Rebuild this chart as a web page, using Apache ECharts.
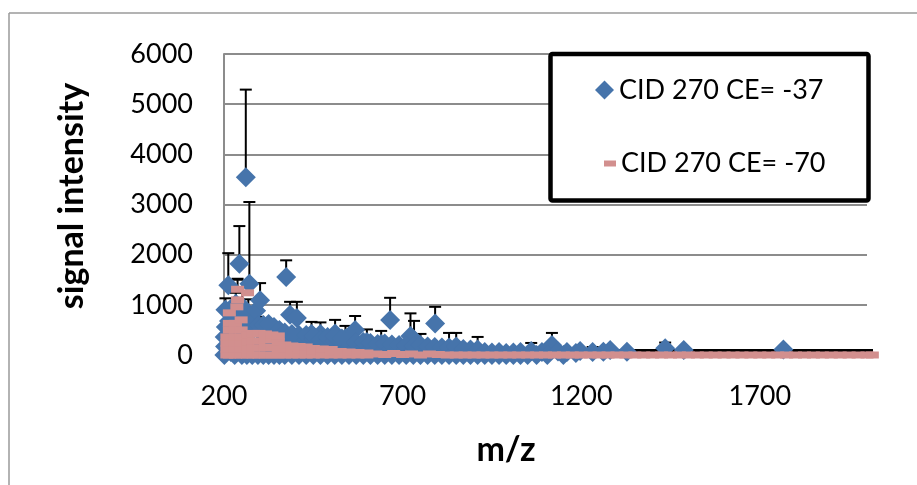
<!DOCTYPE html>
<html>
<head>
<meta charset="utf-8">
<script src="https://cdn.jsdelivr.net/npm/echarts@6/dist/echarts.min.js"></script>
<style>
html,body{margin:0;padding:0;background:#fff;}
#chart{width:917px;height:485px;}
</style>
</head>
<body>
<div id="chart"></div>
<script>
// ---- axis ticks ----
const xTicks = [200, 700, 1200, 1700];
const xMax = 2000;
const yTicks = [0, 1000, 2000, 3000, 4000, 5000, 6000];

const seriesNames = ['CID 270 CE= -37', 'CID 270 CE= -70'];

// ---- CE -37 : [m/z, signal intensity, sd] ----
const blueCluster = [
  [201,0,0],[203,170,0],[202,360,0],[205,560,0],[204,900,230],
  [212,1390,640],[214,680,0],[216,280,0],[219,60,0],[230,0,0],
  [226,440,0],[229,760,0],[233,1020,220],[237,240,0],[250,0,0],
  [243,1820,750],[248,620,0],[251,960,300],[261,3545,1745],
  [256,320,0],[271,1420,1630],[268,780,330],[275,520,0],[264,0,0],
  [281,660,240],[285,160,0],[290,880,0],[296,600,160],[301,1093,340],[279,0,0],[295,0,0]
];
const bluePeaks = [
  [374,1557,330],[385,800,260],[404,740,320],[445,420,240],[511,430,270],
  [567,497,280],[665,700,440],[722,380,450],[732,300,380],[791,630,330],
  [1118,200,240],[1435,133,115],
  [470,420,230],[540,330,250],[600,260,250],[640,220,260]
];
const blueBand = [
  [310,0,0],[310,200,0],[310,400,0],[310,600,0],
  [325,0,0],[325,220,0],[325,420,0],[325,620,0],
  [340,0,0],[340,200,0],[340,380,0],[340,560,0],
  [355,0,0],[355,190,0],[355,370,0],[355,500,0],
  [370,0,0],[370,200,0],[370,350,0],[370,450,0],
  [390,0,0],[390,180,0],[390,330,0],[390,420,0],
  [410,0,0],[410,170,0],[410,320,0],[410,400,0],
  [430,0,0],[430,160,0],[430,300,0],[430,400,0],
  [450,0,0],[450,170,0],[450,320,0],[450,380,0],
  [470,0,0],[470,150,0],[470,300,0],
  [490,0,0],[490,160,0],[490,290,0],[490,360,0],
  [510,0,0],[510,150,0],[510,280,0],[510,380,0],
  [530,0,0],[530,140,0],[530,270,0],[530,330,0],
  [550,0,0],[550,150,0],[550,260,0],[550,300,0],
  [570,0,0],[570,130,0],[570,250,0],
  [590,0,0],[590,140,0],[590,260,0],
  [610,0,0],[610,120,0],[610,240,0],
  [630,0,0],[630,130,0],[630,220,0],
  [650,0,0],[650,110,0],[650,230,0],
  [670,0,0],[670,120,0],[670,210,0],
  [690,0,0],[690,100,0],[690,200,0],
  [710,0,0],[710,110,0],[710,190,0],
  [730,0,0],[730,100,0],[730,180,0],
  [750,0,0],[750,90,0],[750,200,220],
  [770,0,0],[770,100,0],[770,170,0],
  [790,0,0],[790,80,0],[790,160,0],
  [810,0,0],[810,90,0],[810,150,0],
  [830,0,0],[830,80,0],[830,150,290],
  [850,0,0],[850,70,0],[850,170,270],
  [870,0,0],[870,60,0],[870,120,0],
  [890,0,0],[890,80,0],[890,110,0],
  [910,0,0],[910,110,250],
  [930,0,0],[930,60,0],
  [950,0,0],[950,50,0],
  [970,0,0],[970,60,0],
  [990,0,0],[990,40,0],
  [1010,0,0],[1010,50,0],
  [1030,0,0],[1030,60,0],
  [1050,0,0],[1060,80,160],
  [1075,0,0],[1090,60,0],
  [1105,0,0],[1135,70,0],
  [1150,0,0],[1160,60,0]
];
const blueSparse = [
  [1185,40,0],[1197,80,0],[1232,60,100],[1262,67,0],[1281,100,0],
  [1328,67,0],[1487,100,0],[1766,110,0]
];

// ---- CE -70 : [m/z, signal intensity, sd] ----
const pinkCluster = [
  [208,0,0],[208,120,0],[208,240,0],[208,360,0],
  [215,0,0],[215,120,0],[215,240,0],[215,360,0],[215,500,0],[215,630,0],[215,840,0],
  [232,0,0],[232,120,0],[232,240,0],[232,360,0],[232,500,0],[232,630,0],[236,960,0],[238,1100,0],[238,1310,200],
  [248,0,0],[248,120,0],[248,240,0],[248,360,0],[248,500,0],[248,700,0],
  [266,0,0],[266,130,0],[266,260,0],[266,400,0],[266,1240,170],
  [282,0,0],[282,140,0],[282,280,0],[282,430,0],
  [298,0,0],[298,140,0],[298,280,0],[298,430,0],
  [316,0,0],[316,150,0],[316,300,0],[316,420,0],
  [334,0,0],[334,150,0],[334,300,0],[334,400,0],
  [352,0,0],[352,130,0],[352,260,0],[352,380,0],
  [370,0,0],[370,120,0],[370,200,0],
  [390,0,0],[390,110,0],[390,180,0],
  [410,0,0],[410,100,0],[410,170,0],
  [430,0,0],[430,90,0],[430,160,0],
  [450,0,0],[450,80,0],[450,130,0],
  [475,0,0],[475,70,0],[475,120,0],
  [500,0,0],[500,60,0],[500,110,0],
  [525,0,0],[525,70,0],
  [550,0,0],[550,60,0],
  [575,0,0],[575,50,0],
  [600,0,0],[600,40,0]
];
const pinkTail = [
  [625,20,0],[650,10,0],[675,30,0],[700,10,0],[725,20,0],[750,0,0],[775,20,0],[800,10,0],
  [825,0,0],[850,0,90],[875,0,90],[900,0,90],[925,0,90],[950,0,90],[975,0,90],[1000,0,90],
  [1025,0,90],[1050,0,90],[1075,0,90],[1100,0,90],[1125,0,90],[1150,0,90],[1175,0,90],
  [1200,0,90],[1225,0,90],[1250,0,90],[1275,0,90],[1300,0,90],[1325,0,90],[1350,0,90],
  [1375,0,90],[1400,0,90],[1425,0,90],[1450,0,90],[1475,0,90],[1500,0,90],[1525,0,90],
  [1550,0,90],[1575,0,90],[1600,0,90],[1625,0,90],[1650,0,90],[1675,0,90],[1700,0,90],
  [1725,0,90],[1750,0,90],[1775,0,90],[1800,0,90],[1825,0,90],[1850,0,90],[1875,0,90],
  [1900,0,90],[1925,0,90],[1950,0,90],[1975,0,90],[2000,0,90],[2015,0,0]
];

const blueColor = '#4674AB';
const pinkColor = '#D28F8E';
const FONT = 'Lato';

const blueData = blueCluster.concat(bluePeaks, blueBand, blueSparse);
const pinkData = pinkCluster.concat(pinkTail);

function makeErrRender(lw) {
  return function (params, api) {
    const x = api.value(0), y = api.value(1), e = api.value(2);
    if (!e) return null;
    const p0 = api.coord([x, y]);
    const p1 = api.coord([x, y + e]);
    const st = { stroke: '#000', lineWidth: lw };
    return {
      type: 'group',
      children: [
        { type: 'line', shape: { x1: p0[0], y1: p0[1], x2: p1[0], y2: p1[1] }, style: { stroke: '#000', lineWidth: 2 } },
        { type: 'line', shape: { x1: p1[0] - 6, y1: p1[1], x2: p1[0] + 6, y2: p1[1] }, style: st }
      ]
    };
  };
}

const plain = v => String(v);

const chart = echarts.init(document.getElementById('chart'), null, { renderer: 'canvas' });
chart.setOption({
  animation: false,
  backgroundColor: '#fff',
  grid: { left: 224, top: 54, right: 50, bottom: 130, containLabel: false },
  xAxis: {
    type: 'value',
    min: xTicks[0], max: xMax, interval: xTicks[1] - xTicks[0],
    name: 'm/z', nameLocation: 'middle', nameGap: 78,
    nameTextStyle: { fontFamily: FONT, fontWeight: 'bold', fontSize: 34, color: '#000', padding: [0, 79, 0, 0] },
    axisLine: { show: true, lineStyle: { color: '#8c8c8c', width: 2 } },
    axisTick: { show: false },
    splitLine: { show: false },
    axisLabel: { showMaxLabel: false, margin: 28, fontFamily: FONT, fontSize: 27, color: '#000', formatter: plain }
  },
  yAxis: {
    type: 'value',
    min: yTicks[0], max: yTicks[yTicks.length - 1], interval: yTicks[1] - yTicks[0],
    name: 'signal intensity', nameLocation: 'middle', nameGap: 135,
    nameTextStyle: { fontFamily: FONT, fontWeight: 'bold', fontSize: 34, color: '#000', padding: [0, 0, 0, 17] },
    axisLine: { show: true, lineStyle: { color: '#8c8c8c', width: 2 } },
    axisTick: { show: false },
    splitLine: { show: true, lineStyle: { color: '#8c8c8c', width: 2 } },
    axisLabel: { margin: 31, fontFamily: FONT, fontSize: 27, color: '#000', formatter: plain }
  },
  legend: [
    {
      data: [{ name: seriesNames[0], icon: 'diamond' }],
      left: 595, top: 75, padding: 0, itemWidth: 19, itemHeight: 19, itemGap: 0,
      textStyle: { fontFamily: FONT, fontSize: 27, color: '#000', lineHeight: 30 }, z: 20
    },
    {
      data: [{ name: seriesNames[1], icon: 'rect' }],
      left: 604, top: 148.5, padding: 0, itemWidth: 12, itemHeight: 6, itemGap: 0,
      textStyle: { fontFamily: FONT, fontSize: 27, color: '#000', lineHeight: 30 }, z: 20
    }
  ],
  graphic: [
    { type: 'line', shape: { x1: 9, y1: 13, x2: 917, y2: 13 }, style: { stroke: '#9a9a9a', lineWidth: 1.5 }, z: 1 },
    { type: 'line', shape: { x1: 9, y1: 13, x2: 9, y2: 485 }, style: { stroke: '#9a9a9a', lineWidth: 1.5 }, z: 1 },
    { type: 'rect', shape: { x: 550.5, y: 54, width: 318, height: 146.5, r: 2 }, style: { fill: '#fff', stroke: '#000', lineWidth: 4.5 }, z: 15 }
  ],
  series: [
    { name: 'sd70', type: 'custom', renderItem: makeErrRender(3), data: pinkData, encode: { x: 0, y: 1 }, z: 1, silent: true, clip: false },
    { name: 'sd37', type: 'custom', renderItem: makeErrRender(2), data: blueData, encode: { x: 0, y: 1 }, z: 1, silent: true, clip: false },
    { name: seriesNames[0], type: 'scatter', data: blueData, symbol: 'diamond', symbolSize: 20,
      itemStyle: { color: blueColor, opacity: 1 }, z: 2, clip: false },
    { name: seriesNames[1], type: 'scatter', data: pinkData, symbol: 'rect', symbolSize: [13, 7],
      itemStyle: { color: pinkColor, opacity: 1 }, z: 3, clip: false }
  ]
});
</script>
</body>
</html>
